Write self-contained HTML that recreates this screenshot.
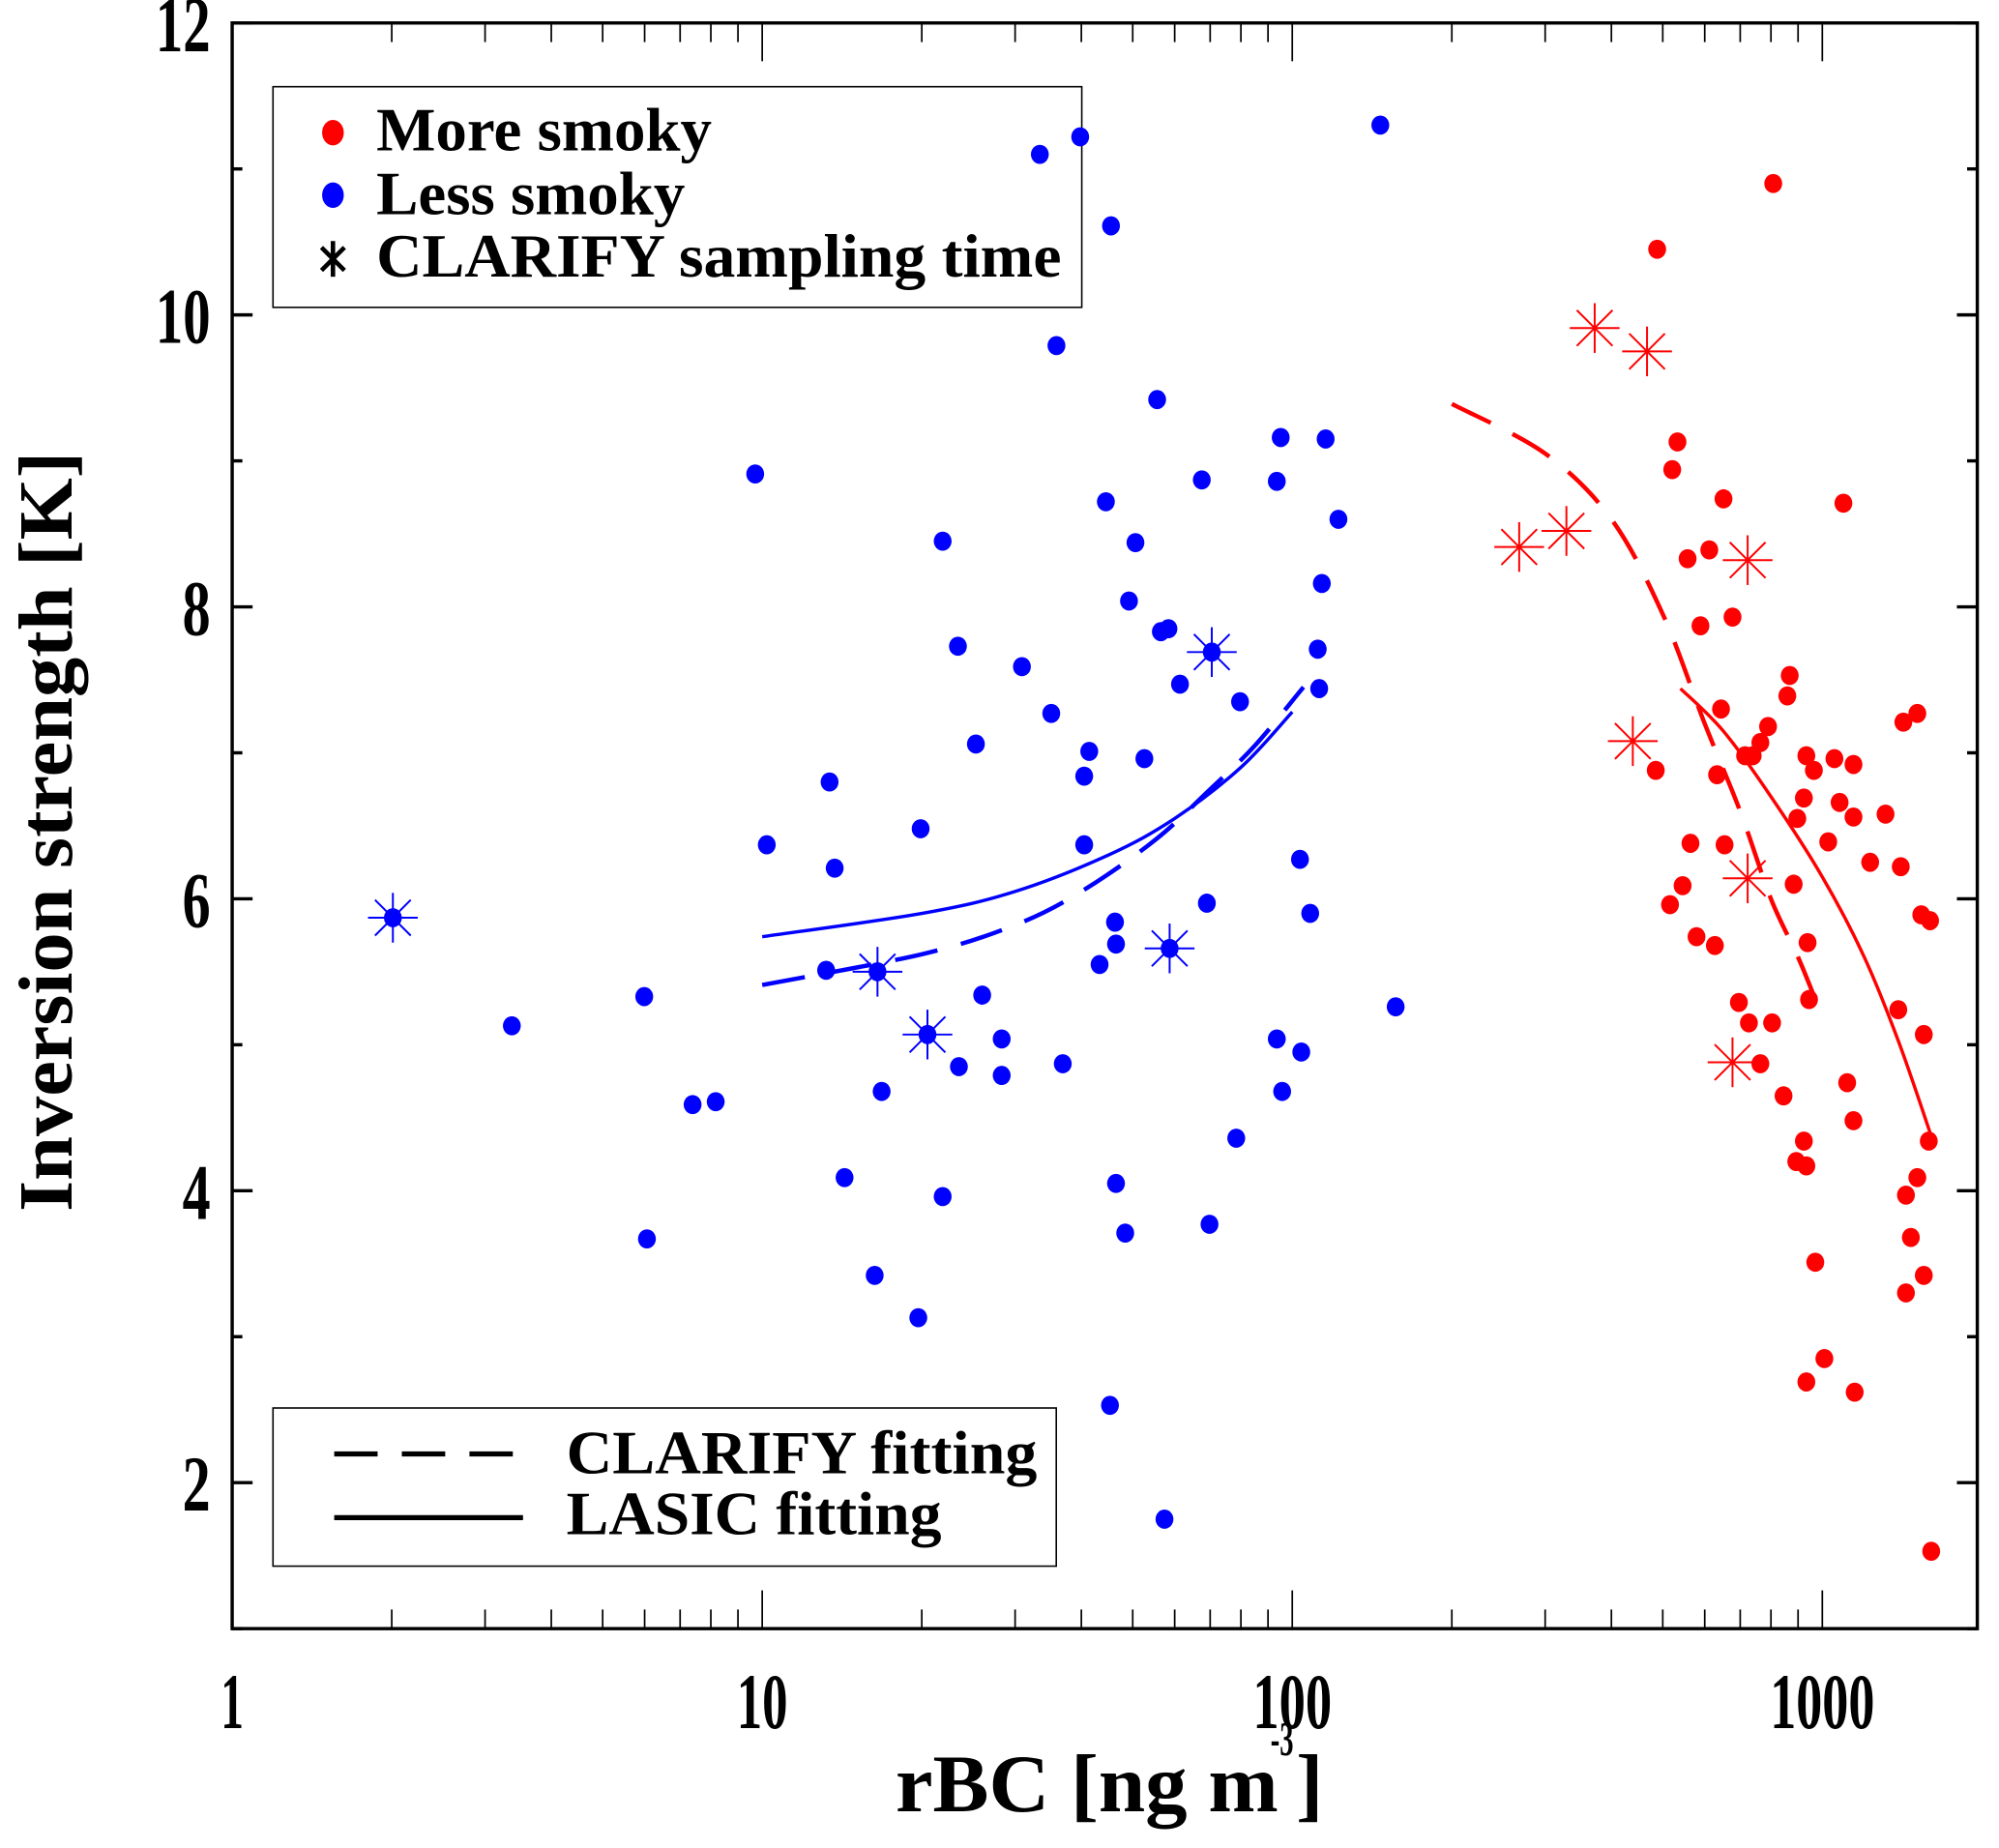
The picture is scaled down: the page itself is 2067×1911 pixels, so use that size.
<!DOCTYPE html>
<html><head><meta charset="utf-8"><style>
html,body{margin:0;padding:0;background:#fff}
svg{display:block}
text{font-family:"Liberation Serif",serif;font-weight:bold;fill:#000}
</style></head><body>
<svg id="chart" width="2067" height="1911" viewBox="0 0 1567 1449" preserveAspectRatio="none" xmlns="http://www.w3.org/2000/svg">
<g>
<rect x="214" y="68" width="634" height="173" fill="none" stroke="#000" stroke-width="1.2"/>
<ellipse cx="261" cy="104" rx="8.5" ry="10" fill="#ff0000"/>
<ellipse cx="261" cy="153" rx="8.5" ry="10" fill="#0000ff"/>
<g stroke="#000" stroke-width="3.5">
<line x1="261" y1="189" x2="261" y2="217"/><line x1="252" y1="194" x2="270" y2="212"/><line x1="270" y1="194" x2="252" y2="212"/>
</g>
<text x="295" y="118" font-size="48" textLength="263" lengthAdjust="spacingAndGlyphs">More smoky</text>
<text x="295" y="168" font-size="48" textLength="242" lengthAdjust="spacingAndGlyphs">Less smoky</text>
<text x="295" y="217" font-size="48" textLength="537" lengthAdjust="spacingAndGlyphs">CLARIFY sampling time</text>
<rect x="214" y="1104" width="614" height="124" fill="none" stroke="#000" stroke-width="1.2"/>
<line x1="262" y1="1140" x2="402" y2="1140" stroke="#000" stroke-width="4" stroke-dasharray="34 19"/>
<line x1="262" y1="1190" x2="410" y2="1190" stroke="#000" stroke-width="4"/>
<text x="444" y="1155" font-size="48" textLength="369" lengthAdjust="spacingAndGlyphs">CLARIFY fitting</text>
<text x="444" y="1203" font-size="48" textLength="294" lengthAdjust="spacingAndGlyphs">LASIC fitting</text>
</g>
<g id="marks"></g>
<g id="axes"></g>
<text x="702" y="1420" font-size="64" textLength="300" lengthAdjust="spacingAndGlyphs">rBC [ng m</text>
<text x="996" y="1376" font-size="38" textLength="18" lengthAdjust="spacingAndGlyphs">-3</text>
<text x="1016" y="1420" font-size="64">]</text>
<text transform="translate(56,652) rotate(-90)" text-anchor="middle" font-size="60" textLength="596" lengthAdjust="spacingAndGlyphs">Inversion strength [K]</text>
</svg>
<script>
const blueX=[33.4,39.8,146.6,45.5,35.9,55.6,9.7,95.1,115.6,67.5,93.5,44.5,122.2,50.6,21.9,113.7,49.2,56.5,58.4,23.4,111.7,70.5,30.9,61.4,112.4,79.7,35.1,25.3,41.4,52.6,40.5,13.4,10.2,40.5,19.9,13.7,103.4,69.0,108.1,2.01,46.3,58.7,46.5,43.3,13.2,16.5,5.99,26.0,156.7,3.37,20.5,28.3,93.5,104.0,36.9,23.5,28.3,16.8,95.7,8.17,7.39,78.4,14.3,46.5,21.9,69.8,48.4,6.06,16.3,19.7,45.3,57.4];
const blueY=[11.10,11.22,11.30,10.61,9.79,9.42,8.91,9.16,9.15,8.87,8.86,8.72,8.60,8.44,8.45,8.16,8.04,7.83,7.85,7.73,7.71,7.69,7.59,7.47,7.44,7.35,7.27,7.06,7.01,6.96,6.84,6.80,6.37,6.37,6.48,6.21,6.27,5.97,5.90,5.87,5.84,5.66,5.69,5.55,5.51,5.50,5.33,5.34,5.26,5.13,5.07,5.04,5.04,4.95,4.87,4.85,4.79,4.68,4.68,4.61,4.59,4.36,4.09,4.05,3.96,3.77,3.71,3.67,3.42,3.13,2.53,1.75];
const blueStarX=[70.5,2.01,58.7,16.5,20.5];
const blueStarY=[7.69,5.87,5.66,5.50,5.07];
const redX=[808,488,533,521,651,1096,612,557,589,677,868,859,644,790,764,715,739,933,1054,1145,964,633,485,1511,1422,923,1078,897,1145,1316,564,654,1026,1231,1406,545,883,516,579,627,938,1537,1597,944,696,1391,727,804,1554,764,1114,845,1145,1588,923,893,933,1511,1438,1469,970,1554,1438,1009,933,1151,1605];
const redY=[10.90,10.45,9.13,8.94,8.74,8.71,8.39,8.33,7.87,7.93,7.53,7.39,7.30,7.18,7.07,6.98,6.98,6.98,6.96,6.92,6.88,6.85,6.88,7.27,7.21,6.69,6.66,6.55,6.56,6.58,6.38,6.37,6.39,6.25,6.22,6.09,6.10,5.96,5.74,5.68,5.70,5.89,5.85,5.31,5.29,5.24,5.15,5.15,5.07,4.87,4.74,4.65,4.48,4.34,4.34,4.20,4.17,4.09,3.97,3.68,3.51,3.42,3.30,2.85,2.69,2.62,1.53];
const redStarX=[372,467,329,268,723,439,723,677];
const redStarY=[9.91,9.75,8.52,8.41,8.32,7.08,6.14,4.88];
const blueSolidX=[10,20,30,45,60,80,100];
const blueSolidY=[5.74,5.90,6.05,6.30,6.55,6.90,7.28];
const blueDashX=[10,20,30,40,55,70,85,105];
const blueDashY=[5.41,5.62,5.82,6.05,6.40,6.75,7.05,7.45];
const redDashX=[200,300,400,500,600,700,800,900,980];
const redDashY=[9.39,9.05,8.60,7.95,7.20,6.60,6.00,5.60,5.27];
const redSolidX=[540,650,800,1000,1200,1400,1620];
const redSolidY=[7.44,7.15,6.70,6.15,5.60,5.00,4.33];
const xTickVals=[1,10,100,1000];
const xTickLabels=["1","10","100","1000"];
const yTickVals=[2,4,6,8,10,12];
const yTickLabels=["2","4","6","8","10","12"];

const L=182,R=1550,T=18,B=1277,DEC=415.5;
const sx=v=>L+Math.log10(v)*DEC;
const sy=v=>B-(v-1)*(B-T)/11;
const NS="http://www.w3.org/2000/svg";
const marks=document.getElementById('marks'),axes=document.getElementById('axes');
function mk(tag,attrs,parent){const e=document.createElementNS(NS,tag);for(const k in attrs)e.setAttribute(k,attrs[k]);parent.appendChild(e);return e;}
function curve(xs,ys,col,dash,name){
  const P=xs.map((x,i)=>[sx(x),sy(ys[i])]);
  let d='M'+P[0][0].toFixed(1)+','+P[0][1].toFixed(1);
  for(let i=0;i<P.length-1;i++){
    const p0=P[Math.max(i-1,0)],p1=P[i],p2=P[i+1],p3=P[Math.min(i+2,P.length-1)];
    const c1=[p1[0]+(p2[0]-p0[0])/6,p1[1]+(p2[1]-p0[1])/6];
    const c2=[p2[0]-(p3[0]-p1[0])/6,p2[1]-(p3[1]-p1[1])/6];
    d+='C'+c1[0].toFixed(1)+','+c1[1].toFixed(1)+' '+c2[0].toFixed(1)+','+c2[1].toFixed(1)+' '+p2[0].toFixed(1)+','+p2[1].toFixed(1);
  }
  const p=mk('path',{d:d,fill:'none',stroke:col,'stroke-width':dash?3.4:2.6,'stroke-dasharray':dash?'34 19':'none','stroke-linejoin':'round'},marks);
  
  
}
function star(x,y,col,name){
  const g=mk('g',{stroke:col,'stroke-width':1.5},marks);
  
  
  const cx=sx(x),cy=sy(y),r=19.5,d=14;
  mk('line',{x1:cx-r,y1:cy,x2:cx+r,y2:cy},g);
  mk('line',{x1:cx,y1:cy-r,x2:cx,y2:cy+r},g);
  mk('line',{x1:cx-d,y1:cy-d,x2:cx+d,y2:cy+d},g);
  mk('line',{x1:cx-d,y1:cy+d,x2:cx+d,y2:cy-d},g);
}
blueX.forEach((x,i)=>{const c=mk('ellipse',{cx:sx(x),cy:sy(blueY[i]),rx:7,ry:7.5,fill:'#0000ff'},marks);
  
  });
redX.forEach((x,i)=>{const c=mk('ellipse',{cx:sx(x),cy:sy(redY[i]),rx:7,ry:7.5,fill:'#ff0000'},marks);
  
  });
blueStarX.forEach((x,i)=>star(x,blueStarY[i],'#0000ff','less-smoky-clarify-star'));
redStarX.forEach((x,i)=>star(x,redStarY[i],'#ff0000','more-smoky-clarify-star'));
curve(blueSolidX,blueSolidY,'#0000ff',false,'less-smoky-lasic-fit');
curve(blueDashX,blueDashY,'#0000ff',true,'less-smoky-clarify-fit');
curve(redDashX,redDashY,'#ff0000',true,'more-smoky-clarify-fit');
curve(redSolidX,redSolidY,'#ff0000',false,'more-smoky-lasic-fit');

const frame=mk('rect',{x:L,y:T,width:R-L,height:B-T,fill:'none',stroke:'#000','stroke-width':2.6},axes);


for(let dec=0;dec<4;dec++){for(let m=1;m<10;m++){const v=Math.pow(10,dec)*m;const x=sx(v);if(x>R)continue;
  const len=m===1?30:15;
  const t1=mk('line',{x1:x,y1:B,x2:x,y2:B-len,stroke:'#000','stroke-width':1.3},axes);
  
  
  const t2=mk('line',{x1:x,y1:T,x2:x,y2:T+len,stroke:'#000','stroke-width':1.3},axes);
  
  }}
xTickVals.forEach((v,i)=>{const w=[18,40,62,82][i];const t=mk('text',{x:sx(v),y:1355,'font-size':62,'text-anchor':'middle',textLength:w,lengthAdjust:'spacingAndGlyphs'},axes);t.textContent=xTickLabels[i];
  
  });
for(let v=1;v<=12;v++){const y=sy(v);const len=v%2===0?16:8;
  const a=mk('line',{x1:L,y1:y,x2:L+len,y2:y,stroke:'#000','stroke-width':2.6},axes);
  
  
  const b=mk('line',{x1:R,y1:y,x2:R-len,y2:y,stroke:'#000','stroke-width':2.6},axes);
  
  }
yTickVals.forEach((v,i)=>{const lbl=yTickLabels[i];const t=mk('text',{x:165,y:sy(v)+22,'font-size':62,'text-anchor':'end',textLength:lbl.length===1?22:43,lengthAdjust:'spacingAndGlyphs'},axes);t.textContent=lbl;
  
  });
</script>
</body></html>
